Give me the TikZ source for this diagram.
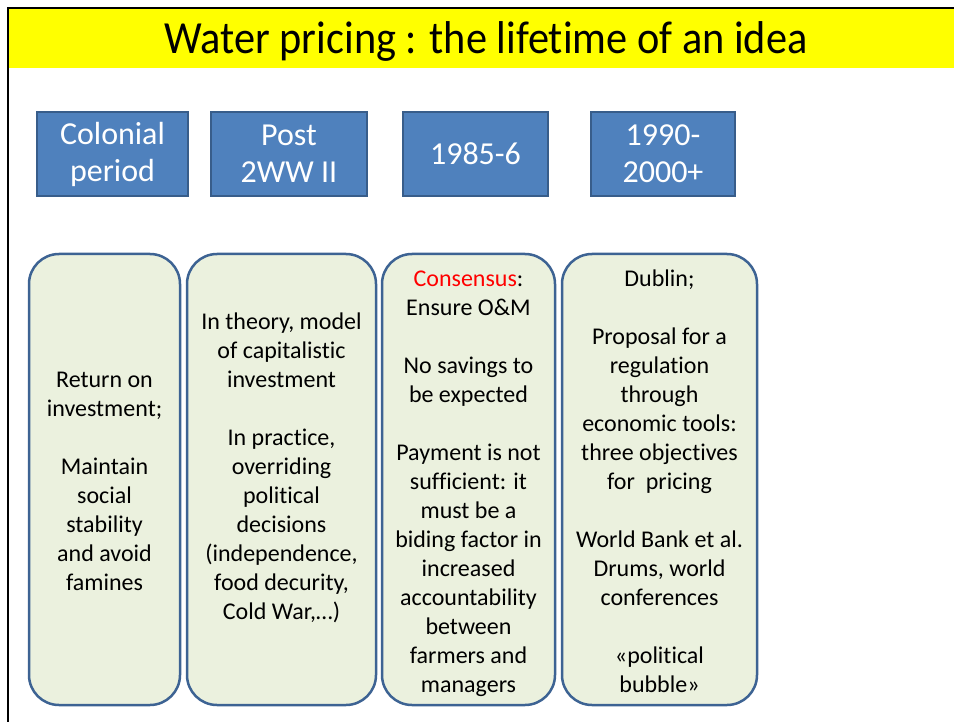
\documentclass[tikz,border=0pt]{standalone}
\usepackage{fontspec}
\setmainfont{Carlito}[Ligatures=NoCommon]

\definecolor{titleyellow}{HTML}{FFFF00}
\definecolor{periodblue}{HTML}{4F81BD}
\definecolor{periodedge}{HTML}{385D8A}
\definecolor{ideagreen}{HTML}{EBF1DE}
\definecolor{ideaedge}{HTML}{3D6393}

\tikzset{
  period/.style={draw=periodedge, line width=1.5pt, fill=periodblue, text=white,
    align=center, inner sep=0pt, minimum height=84pt,
    font=\fontsize{32}{37}\selectfont},
  idea/.style={draw=ideaedge, line width=2.5pt, fill=ideagreen,
    rounded corners=30pt, inner sep=0pt, minimum height=451pt},
  ideatext/.style={anchor=north, align=center, inner sep=0pt,
    font=\fontsize{24}{29}\selectfont}
}

\begin{document}
\begin{tikzpicture}[x=1pt, y=-1pt]
    \useasboundingbox (0,0) rectangle (954,722);
    % title bar and slide frame
    \fill[titleyellow] (8,8) rectangle (954,68);
    \draw[line width=2.5pt] (954,8) -- (8,8) -- (8,722);
    \node[font=\fontsize{46}{50}\selectfont, xscale=0.92] (title) at (486,41) {Water pricing : the lifetime of an idea};

    % periods
    \node[period, minimum width=151pt] (colonial) at (112.5,154) {Colonial\\period};
    \node[period, minimum width=156pt] (postwar) at (289,154) {Post\\2WW II};
    \node[period, minimum width=145pt] (eighties) at (475.5,154) {1985-6};
    \node[period, minimum width=144pt] (nineties) at (663,154) {1990-\\2000+};

    % what pricing stood for in each period
    \node[idea, minimum width=151pt] (colonialbox) at (104.5,479.5) {};
    \node[idea, minimum width=189pt] (postwarbox) at (281.5,479.5) {};
    \node[idea, minimum width=173pt] (eightiesbox) at (468.5,479.5) {};
    \node[idea, minimum width=195pt] (ninetiesbox) at (659.5,479.5) {};

    \node[ideatext] (colonialtext) at (104.5,366.7) {\strut Return on\\investment;\\[29pt]
      Maintain\\social\\stability\\and avoid\\famines};
    \node[ideatext] (postwartext) at (281.5,308.7) {\strut In theory, model\\of capitalistic\\investment\\[29pt]
      In practice,\\overriding\\political\\decisions\\(independence,\\food decurity,\\Cold War,…)};
    \node[ideatext] (eightiestext) at (468.5,265.7) {\strut{\color{red}Consensus}:\\Ensure O\&M\\[29pt]
      No savings to\\be expected\\[29pt]
      Payment is not\\sufficient: it\\must be a\\biding factor in\\increased\\accountability\\between\\farmers and\\managers};
    \node[ideatext] (ninetiestext) at (659.5,265.7) {\strut Dublin;\\[29pt]
      Proposal for a\\regulation\\through\\economic tools:\\three objectives\\for~ pricing\\[29pt]
      World Bank et al.\\Drums, world\\conferences\\[29pt]
      «political\\bubble»};
\end{tikzpicture}
\end{document}
